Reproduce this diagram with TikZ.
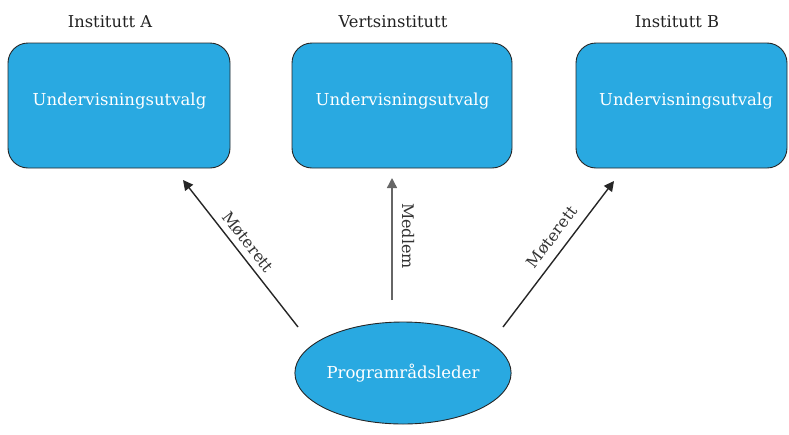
\documentclass[tikz,border=0pt]{standalone}
\usepackage{fontspec}
\setmainfont{DejaVu Serif}
\usetikzlibrary{arrows.meta,shapes.geometric}
\definecolor{boxblue}{HTML}{29A9E1}
\definecolor{txtdark}{HTML}{222222}
\tikzset{
  unitbox/.style={draw=black!85, line width=0.9pt, fill=boxblue, rounded corners=20pt,
    minimum height=125pt, inner sep=0pt},
  boxtext/.style={text=white, font=\fontsize{16.5}{19}\selectfont, inner sep=0pt},
  titletext/.style={text=txtdark, font=\fontsize{16.3}{19}\selectfont, inner sep=0pt},
  leaderell/.style={draw=black!85, line width=0.9pt, fill=boxblue, ellipse,
    minimum width=214pt, minimum height=102pt, text=white, font=\fontsize{16.5}{19}\selectfont, inner sep=0pt},
  relarrow/.style={draw=black!85, line width=1.4pt, -{Triangle[width=10pt,length=10pt]}},
  rellabel/.style={text=black!80, font=\fontsize{16}{19}\selectfont, inner sep=0pt}
}
\begin{document}
\begin{tikzpicture}[x=1pt,y=-1pt]
\useasboundingbox (0,0) rectangle (789,434);
% boxes
\node[unitbox, minimum width=222pt] (A) at (119,105.5) {};
\node[unitbox, minimum width=220pt] (B) at (402,105.5) {};
\node[unitbox, minimum width=211pt] (C) at (681.5,105.5) {};
\node[boxtext] (Atext) at (119.5,101) {Undervisningsutvalg};
\node[boxtext] (Btext) at (402.5,101) {Undervisningsutvalg};
\node[boxtext] (Ctext) at (686,101) {Undervisningsutvalg};
% titles
\node[titletext] (At) at (110,22) {Institutt A};
\node[titletext] (Bt) at (393,22) {Vertsinstitutt};
\node[titletext] (Ct) at (677,22) {Institutt B};
% leader
\node[leaderell] (P) at (403,373) {Programrådsleder};
% arrow ends
\coordinate (tA) at (298,327);
\coordinate (hA) at (183,180);
\coordinate (tB) at (392,300);
\coordinate (hB) at (392,178);
\coordinate (tC) at (503,327);
\coordinate (hC) at (614,181);
\draw[relarrow] (tA) -- (hA);
\draw[relarrow, draw=black!60] (tB) -- (hB);
\draw[relarrow] (tC) -- (hC);
% labels
\node[rellabel, rotate=-52] (lA) at (248,242) {Møterett};
\node[rellabel, rotate=-90] (lB) at (408,236) {Medlem};
\node[rellabel, rotate=53] (lC) at (552,237) {Møterett};
\end{tikzpicture}
\end{document}
